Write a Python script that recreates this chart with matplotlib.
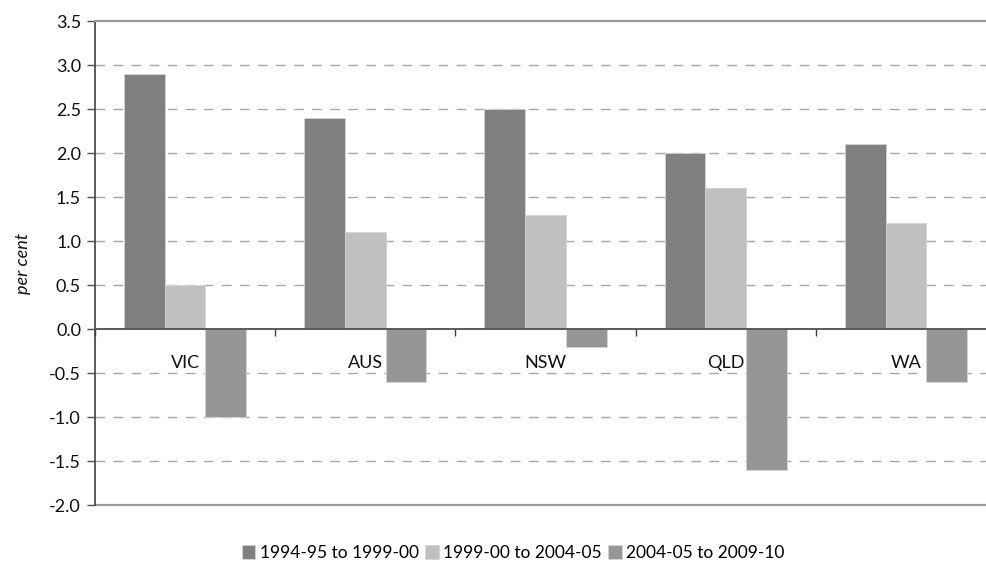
import matplotlib
matplotlib.use("Agg")
import matplotlib.pyplot as plt
import numpy as np

regions = ["VIC", "AUS", "NSW", "QLD", "WA"]
series_names = ["1994-95 to 1999-00", "1999-00 to 2004-05", "2004-05 to 2009-10"]
growth_9400 = [2.9, 2.4, 2.5, 2.0, 2.1]
growth_0005 = [0.5, 1.1, 1.3, 1.6, 1.2]
growth_0510 = [-1.0, -0.6, -0.2, -1.6, -0.6]
y_ticks = [3.5, 3.0, 2.5, 2.0, 1.5, 1.0, 0.5, 0.0, -0.5, -1.0, -1.5, -2.0]

colors = ["#808080", "#c0c0c0", "#969696"]
plt.rcParams["font.family"] = ["Lato", "DejaVu Sans"]

fig = plt.figure(figsize=(9.87, 5.64), dpi=100)
ax = fig.add_axes([95 / 987, 1 - 505 / 564, 901 / 987, (505 - 21) / 564])

x = np.arange(len(regions))
w = 0.226
for k, (vals, name) in enumerate(zip([growth_9400, growth_0005, growth_0510], series_names)):
    ax.bar(x + (k - 1) * w, vals, width=w, color=colors[k], edgecolor="#d4d4d4",
           linewidth=0.6, label=name, zorder=3)

ax.set_xlim(-0.5, len(regions) - 0.5)
ax.set_ylim(-2.0, 3.5)
ax.set_yticks(y_ticks)
ax.set_yticklabels([f"{t:.1f}" for t in y_ticks], fontsize=13, color="#111111")
ax.tick_params(axis="y", direction="out", length=6, width=1, color="#505050", pad=4)

# horizontal dashed gridlines
for t in y_ticks:
    if t not in (0.0, 3.5, -2.0):
        ax.axhline(t, color="#a8a8a8", lw=1.0, ls=(0, (7, 6)), zorder=1)

# category axis crosses at zero
ax.spines["bottom"].set_position(("data", 0))
ax.spines["bottom"].set_color("#5a5a5a")
ax.spines["bottom"].set_linewidth(1.4)
ax.spines["bottom"].set_zorder(4)
ax.set_xticks(np.arange(len(regions) + 1) - 0.5)
ax.set_xticklabels([])
ax.tick_params(axis="x", direction="out", length=5, width=1, color="#404040")

ax.spines["left"].set_color("#404040")
ax.spines["left"].set_linewidth(1.2)
ax.spines["right"].set_visible(False)
ax.spines["top"].set_color("#999999")
ax.spines["top"].set_linewidth(1.6)
ax.axhline(-2.0, color="#999999", lw=1.6, clip_on=False, zorder=2)

for i, r in enumerate(regions):
    ax.text(i, -0.39, r, ha="center", va="center", fontsize=13, color="#111111", zorder=2)

ax.set_ylabel("per cent", fontsize=13, style="italic", color="#111111", labelpad=13)

fig.legend(loc="center", bbox_to_anchor=(513 / 987, 1 - 553 / 564), ncol=3, frameon=False,
           fontsize=12.5, handlelength=0.8, handleheight=0.8, handletextpad=0.25,
           columnspacing=0.35, borderaxespad=0)

fig.savefig("out.png", dpi=100)
